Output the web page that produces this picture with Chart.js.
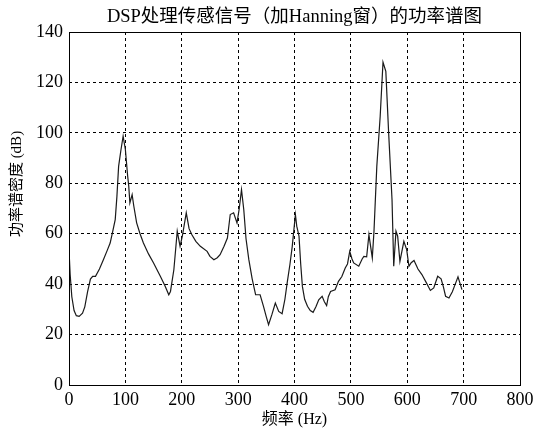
<!DOCTYPE html>
<html><head><meta charset="utf-8">
<script src="https://cdn.jsdelivr.net/npm/chart.js@4/dist/chart.umd.min.js"></script>
<style>html,body{margin:0;padding:0;background:#fff}#wrap{width:535px;height:435px}</style>
</head><body><div id="wrap"><canvas id="c" width="535" height="435"></canvas></div>
<script>
const titleText = 'DSP处理传感信号（加Hanning窗）的功率谱图';
const xLabel = '频率 (Hz)';
const yLabel = '功率谱密度 (dB)';
const freqs = [0,2,5,9,13,18,24,28,33,38,42,47,54,61,68,73,77,82,85,88,92,96,100,104,106,108,112,115,120,126,132,141,150,162,170,177,180,186,192,197,201,208,213,218,225,233,245,250,257,263,268,275,281,286,292,298,302,306,310,314,319,325,331,339,345,350,354,360,366,372,378,383,387,392,396,401.6,404,408,411,414,418,423,428,433,438,443,449,453,457,460,464,472,478,484,490,494,498,502,505,514,520,523,528,532,535,538,541,546,552,557,562,567,573,576,580,583,587,594,599,603,607,612,619,626,634,641,647,654,660,664,668,674,680,686,690,694,697];
const power = [53.7,44,35,29.5,27.5,27.2,28.5,31,37,42,43.1,43.1,46,49.7,53.5,56.3,60.3,65.6,74.8,86.7,93,98.7,93.4,83,78.8,72.2,75.5,70.9,64.3,60,56.3,52,48.4,43.1,39.5,35.8,37.1,45.7,61,55,59,68.3,62,59.6,57,55,53,51,49.7,50.5,51.7,55,58.3,67.6,68.3,64.3,70,77.5,69.6,58,49.7,42,35.8,35.8,31.2,27,23.9,28,32.5,29.2,28.3,34,40.5,48,55,67.6,63,59,48,39.1,34,31.2,29.5,28.8,31,33.8,35.2,33,31.5,35,37.1,37.8,41.1,43,46.4,48,53,50,48.4,47.1,50,51,50.8,59.6,55,50.4,61,86.7,106.6,128,124.4,100,73.5,47.1,61,59,49,57,53.7,47.1,48.5,49.4,46,43.8,40.5,37.5,38.5,43.1,42.1,39,35.2,34.5,37,40.5,42.9,40,37.8];
const xTicks = [0,100,200,300,400,500,600,700,800];
const yTicks = [0,20,40,60,80,100,120,140];

const serif = "'Liberation Serif','Noto Sans CJK SC',serif";
const decoPlugin = {
  id: 'deco',
  afterDraw(chart) {
    const {ctx, chartArea: a} = chart;
    ctx.save();
    ctx.strokeStyle = '#000';
    ctx.lineWidth = 1;
    ctx.setLineDash([]);
    ctx.strokeRect(Math.round(a.left) + 0.5, Math.round(a.top) + 0.5, Math.round(a.right - a.left), Math.round(a.bottom - a.top));
    ctx.fillStyle = '#000';
    ctx.textAlign = 'center';
    ctx.textBaseline = 'middle';
    ctx.font = "18.5px " + serif;
    ctx.fillText(titleText, (a.left + a.right) / 2, 17);
    ctx.translate(17, 184);
    ctx.rotate(-Math.PI / 2);
    ctx.font = "15px " + serif;
    ctx.fillText(yLabel, 0, 0);
    ctx.restore();
  }
};

new Chart(document.getElementById('c'), {
  type: 'line',
  data: {
    datasets: [{
      data: freqs.map((f, i) => ({x: f, y: power[i]})),
      borderColor: '#1a1a1a',
      borderWidth: 1.2,
      pointRadius: 0,
      tension: 0,
      fill: false
    }]
  },
  options: {
    responsive: false,
    animation: false,
    devicePixelRatio: 1,
    layout: {padding: {left: 0, right: 15, top: 32, bottom: 0}},
    plugins: {
      legend: {display: false},
      tooltip: {enabled: false},
      title: {display: false}
    },
    scales: {
      x: {
        type: 'linear',
        min: 0, max: 800,
        afterBuildTicks: s => { s.ticks = xTicks.map(v => ({value: v})); },
        afterFit: s => { s.height = 50; s.paddingRight = 10; s.paddingLeft = 10; },
        grid: {color: '#000', lineWidth: 1, drawTicks: false, borderDash: [3, 3], dash: [3, 3]},
        border: {display: false, dash: [3, 3]},
        ticks: {color: '#000', padding: 4, font: {family: serif, size: 18}, maxRotation: 0},
        title: {display: true, text: xLabel, color: '#000', font: {family: serif, size: 16}, padding: {top: 0, bottom: 6}}
      },
      y: {
        min: 0, max: 140,
        afterBuildTicks: s => { s.ticks = yTicks.map(v => ({value: v})); },
        afterFit: s => { s.width = 69; },
        grid: {color: '#000', lineWidth: 1, drawTicks: false, borderDash: [3, 3], dash: [3, 3]},
        border: {display: false, dash: [3, 3]},
        ticks: {color: '#000', padding: 6, font: {family: serif, size: 18}},
        title: {display: false}
      }
    }
  },
  plugins: [decoPlugin]
});
</script></body></html>
